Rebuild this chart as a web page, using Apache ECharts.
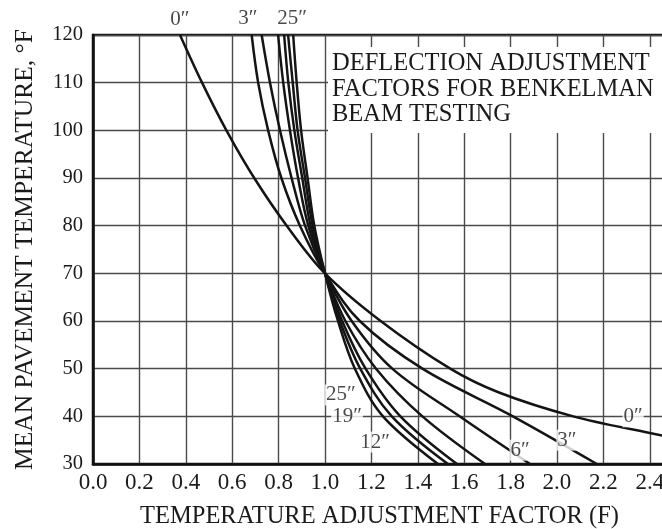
<!DOCTYPE html>
<html>
<head>
<meta charset="utf-8">
<script src="https://cdn.jsdelivr.net/npm/echarts@6/dist/echarts.min.js"></script>
<style>
html,body{margin:0;padding:0;background:#fff;}
#chart{width:662px;height:529px;}
</style>
</head>
<body>
<div id="chart"></div>
<script>
// Temperatures (°F) at which each curve is read
const temps = [120, 110, 100, 90, 80, 70, 60, 50, 40, 30];
const temps0 = [120, 110, 100, 90, 80, 70, 60, 50, 45, 40, 36.5, 35];
// Adjustment factors (F) per asphalt thickness
const f0  = [0.375, 0.47, 0.575, 0.695, 0.835, 1.0, 1.24, 1.54, 1.75, 2.07, 2.4, 2.55];
const f3  = [0.684, 0.712, 0.755, 0.812, 0.892, 1.0, 1.15, 1.42, 1.81, 2.172];
const f6  = [0.727, 0.763, 0.806, 0.856, 0.914, 1.0, 1.115, 1.29, 1.58, 1.884];
const f9  = [0.798, 0.820, 0.849, 0.884, 0.928, 1.0, 1.088, 1.22, 1.42, 1.69];
const f12 = [0.824, 0.842, 0.868, 0.902, 0.938, 1.0, 1.074, 1.175, 1.325, 1.569];
const f19 = [0.841, 0.861, 0.882, 0.914, 0.947, 1.0, 1.064, 1.152, 1.288, 1.53];
const f25 = [0.863, 0.878, 0.897, 0.925, 0.954, 1.0, 1.056, 1.129, 1.25, 1.487];

// Curve labels
const labelText = ['0″', '3″', '25″', '25″', '19″', '12″', '6″', '3″', '0″'];
const labelX    = [0.375, 0.668, 0.858, 1.068, 1.095, 1.216, 1.841, 2.043, 2.328];
const labelY    = [123.2, 123.4, 123.4, 44.5, 39.9, 34.6, 32.9, 35.0, 39.9];

const titleLines = ['DEFLECTION ADJUSTMENT', 'FACTORS FOR BENKELMAN', 'BEAM TESTING'];

const FONT = 'Liberation Serif';
const INK = '#141414';
const TXT = '#1a1a1a';

function pairs(xs, ys) { return xs.map((x, i) => [x, ys[i]]); }

const curves = [
  pairs(f0, temps0), pairs(f3, temps), pairs(f6, temps), pairs(f9, temps),
  pairs(f12, temps), pairs(f19, temps), pairs(f25, temps)
];

const chart = echarts.init(document.getElementById('chart'), null, {renderer: 'canvas'});

const series = curves.map(d => ({
  type: 'line',
  data: d,
  smooth: 0.35,
  symbol: 'none',
  clip: true,
  lineStyle: {color: INK, width: 2.5},
  z: 3
}));

series.push({
  type: 'scatter',
  clip: false,
  symbolSize: 0,
  z: 5,
  data: labelText.map((t, i) => ({name: t, value: [labelX[i], labelY[i]]})),
  label: {
    show: true,
    position: 'inside',
    formatter: p => p.name,
    fontFamily: FONT,
    fontSize: 21,
    color: TXT,
    backgroundColor: '#fff',
    padding: [0, 1]
  }
});

const option = {
  animation: false,
  backgroundColor: '#fff',
  textStyle: {fontFamily: FONT},
  grid: {left: 93, top: 35, right: -4, bottom: 65, containLabel: false, outerBoundsMode: 'none',
         show: true, borderColor: '#111', borderWidth: 2.5, backgroundColor: 'transparent'},
  xAxis: {
    type: 'value',
    min: 0, max: 2.47, interval: 0.2,
    name: 'TEMPERATURE ADJUSTMENT FACTOR (F)',
    nameLocation: 'middle',
    nameGap: 40,
    nameTextStyle: {fontFamily: FONT, fontSize: 24.5, color: TXT},
    axisLine: {lineStyle: {color: '#111', width: 2.5}},
    axisTick: {show: false},
    splitLine: {lineStyle: {color: '#4a4a4a', width: 1.4}},
    axisLabel: {
      fontFamily: FONT, fontSize: 23, color: TXT, margin: 7,
      showMaxLabel: false,
      formatter: v => (Math.abs(v / 0.2 - Math.round(v / 0.2)) < 1e-6 ? v.toFixed(1) : '')
    }
  },
  yAxis: {
    type: 'value',
    min: 30, max: 120, interval: 10,
    name: 'MEAN PAVEMENT TEMPERATURE, °F',
    nameLocation: 'middle',
    nameGap: 55,
    nameTextStyle: {fontFamily: FONT, fontSize: 25.5, color: TXT},
    axisLine: {show: true, lineStyle: {color: '#111', width: 2.5}},
    axisTick: {show: false},
    splitLine: {lineStyle: {color: '#4a4a4a', width: 1.4}},
    axisLabel: {fontFamily: FONT, fontSize: 20.5, color: TXT, margin: 10}
  },
  graphic: [
    {type: 'rect', left: 328, top: 47, shape: {width: 340, height: 86}, style: {fill: '#fff'}, z: 2},
    {type: 'text', left: 332, top: 51, z: 4,
     style: {text: titleLines.join('\n'), font: '24.5px "Liberation Serif"', lineHeight: 25.5, fill: TXT}}
  ],
  series: series
};

chart.setOption(option);
</script>
</body>
</html>
